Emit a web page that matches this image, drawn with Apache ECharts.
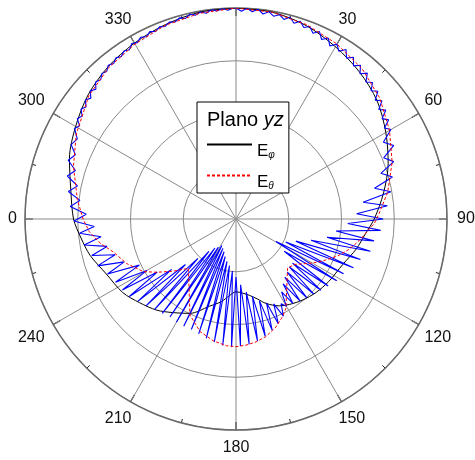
<!DOCTYPE html>
<html>
<head>
<meta charset="utf-8">
<script src="https://cdn.jsdelivr.net/npm/echarts@6/dist/echarts.min.js"></script>
<style>
  html, body { margin: 0; padding: 0; background: #fff; }
  #chart { width: 475px; height: 460px; }
</style>
</head>
<body>
<div id="chart"></div>
<script>
// Radiation pattern in the yz plane, levels in dB (angle in degrees, clockwise from top)

// E_phi component
const blackDeg = [0,10,20,30,40,50,60,70,80,90,97,104,113,124,132.5,140.5,148,153.5,160.4,165,
  170,175,180,185,190,197,206,214,221,229,237,247,256,263,270,280,290,300,310,320,330,340,350,360];
const blackDb = [0,-0.2,-1.0,-2.3,-3.6,-5.1,-7.2,-9.3,-11.6,-13.8,-15.4,-16.5,-18.0,-18.8,-19.4,-20.1,-20.9,-21.6,-23.0,-24.3,
  -25.3,-25.9,-26.2,-25.4,-24.1,-22.7,-20.1,-18.6,-17.1,-15.8,-14.4,-13.3,-11.5,-10.4,-9.2,-8.2,-6.4,-4.9,-3.4,-2.3,-1.5,-0.8,-0.2,0];

// E_theta component
const redDeg = [0,10,20,30,40,50,60,70,80,88,92,96,100,105,110,116,120,124,128,133.6,
  150.8,154.5,159.6,165.7,170.7,175.5,180,184.2,190.5,197.7,205.6,224,230.3,236.1,240.4,247.9,255,260,265,270,
  277,288,298,310,320,330,340,350,360];
const redDb = [0,-0.2,-0.8,-1.7,-2.8,-4.4,-6.4,-8.5,-10.8,-12.9,-13.8,-15.2,-16.3,-17.8,-19.5,-21.8,-23.3,-24.8,-26.0,-26.5,
  -20.6,-19.5,-18.2,-17.0,-16.4,-16.0,-15.8,-15.9,-16.5,-17.6,-19.8,-27.0,-24.5,-21.9,-19.8,-17.6,-15.9,-13.8,-12.1,-11.0,
  -9.7,-7.6,-5.7,-3.6,-2.5,-1.7,-0.9,-0.4,0];

// total field (sampled, strongly oscillating)
const blueDeg = [
  0,1.5,3,4.5,6,7.5,9,10.5,12,13.5,15,16.5,18,19.5,21,22.5,24,25.5,27,28.5,30,
  31.5,33,34.5,36,37.5,39,40.5,42,43.5,45,46.5,48,49.5,51,52.5,54,55.5,57,58.5,60,
  62.5,65,67.5,70,72.5,75,77.5,80,82.5,85,87.5,90,
  92.3,94.5,96.8,99,101.3,103.5,105.8,108,110.3,112.5,114.8,117,119.3,121.5,123.8,
  126,128,130,132,134,136,138,140,142,144,146,148,150,
  152,154,156,158,160,162,164,166,168,170,172,174,176,178,180,
  182,184,186,188,190,192,194,196,198,200,202,204,206,208,210,
  212,214,216,218,220,222,224,226,228,230,232,234,236,238,240,
  242.3,244.5,246.8,249,251.3,253.5,255.8,258,260.3,262.5,264.8,267,269.3,
  271.8,274.3,276.8,279.3,281.8,284.3,286.8,289.3,291.8,294.3,296.8,299.3,
  300.8,302.3,303.8,305.3,306.8,308.3,309.8,311.3,312.8,314.3,315.8,317.3,318.8,320.3,321.8,323.3,324.8,326.3,327.8,329.3,
  330.8,332.3,333.8,335.3,336.8,338.3,339.8,341.3,342.8,344.3,345.8,347.3,348.8,350.3,351.8,353.3,354.8,356.3,357.8,359.3,360];
const blueDb = [
  0,-0.6,0,-0.6,0,-0.8,-0.2,-0.9,-0.4,-1.1,-0.4,-1.3,-0.6,-1.5,-0.9,-1.9,-1.1,-2.3,-1.5,-2.7,-1.7,
  -2.7,-1.7,-3.0,-2.1,-3.4,-2.5,-3.8,-2.8,-4.2,-3.4,-4.7,-3.8,-5.3,-4.4,-5.9,-4.9,-6.4,-5.5,-7.0,-6.1,
  -8.5,-7.0,-9.7,-8.2,-11.2,-9.3,-13.1,-10.2,-15.7,-11.2,-17.1,-12.1,
  -18.8,-12.5,-20.9,-13.5,-22.4,-13.8,-25.2,-15.2,-27.9,-15.9,-29.6,-17.1,-31.3,-17.6,-29.0,
  -18.4,-26.4,-19.0,-26.4,-19.5,-26.0,-19.9,-25.6,-20.3,-24.8,-20.7,-23.7,-20.9,
  -21.8,-19.5,-22.4,-18.6,-23.1,-17.8,-23.9,-17.1,-25.0,-16.5,-26.0,-16.1,-27.5,-15.9,-29.0,
  -15.7,-30.1,-15.9,-31.1,-16.3,-31.8,-16.7,-32.6,-17.1,-33.4,-17.4,-33.9,-17.4,-34.3,-17.4,
  -33.7,-17.6,-33.2,-17.3,-32.0,-16.9,-29.6,-16.3,-27.1,-15.7,-24.5,-15.0,-22.0,-14.6,-20.5,
  -14.2,-19.7,-13.5,-17.3,-12.3,-16.1,-11.8,-15.0,-10.8,-14.2,-10.2,-13.1,-9.3,
  -11.6,-8.5,-10.2,-7.8,-9.3,-7.0,-8.2,-6.3,-7.2,-5.7,-6.3,-4.9,
  -5.5,-4.4,-4.9,-4.0,-4.5,-3.6,-4.2,-3.2,-3.8,-2.8,-3.2,-2.5,-2.8,-2.1,-2.5,-1.9,-2.3,-1.7,-2.1,-1.3,
  -1.7,-1.1,-1.5,-0.9,-1.3,-0.8,-1.1,-0.6,-0.9,-0.4,-0.8,-0.2,-0.6,-0.2,-0.6,0,-0.4,0,-0.4,0,0];

// angular tick labels (the top one is not shown, the left one reads "0")
const angleTicks = [0,30,60,90,120,150,180,210,240,270,300,330,360];
const angleTickText = ['','30','60','90','120','150','180','210','240','0','300','330',''];

const FONT = '"Liberation Sans", Arial, Helvetica, sans-serif';
const toPolar = (deg, db) => deg.map((a, i) => [db[i], a]);

// small horizontal nudges so labels sit centred on their spokes
const labelNudge = { '30': 'l8', '150': 'l8', '60': 'l3', '120': 'l3', '330': 'r6', '210': 'r6', '0': 'r2' };
const tok = (pad) => ({ fontSize: 16, fontFamily: FONT, color: '#111', padding: pad });

const chart = echarts.init(document.getElementById('chart'), null, { renderer: 'canvas' });
chart.setOption({
  animation: false,
  backgroundColor: '#fff',
  polar: { center: [236, 219], radius: 211 },
  angleAxis: {
    type: 'value', min: 0, max: 360, interval: 30,
    startAngle: 90, clockwise: true,
    axisLine: { show: true, lineStyle: { color: '#6a6a6a', width: 1.5 } },
    axisTick: { show: true, inside: true, length: 8, lineStyle: { color: '#111', width: 1.2 } },
    minorTick: { show: true, splitNumber: 2, length: 4, lineStyle: { color: '#222', width: 1 } },
    splitLine: { show: true, lineStyle: { color: '#8a8a8a', width: 1 } },
    axisLabel: {
      margin: 10, color: '#111', fontSize: 16, fontFamily: FONT,
      formatter: function (v) {
        const i = angleTicks.indexOf(Math.round(v));
        const t = i >= 0 ? angleTickText[i] : '';
        if (!t) return '';
        const key = labelNudge[t];
        return key ? '{' + key + '|' + t + '}' : t;
      },
      rich: {
        l8: tok([0, 0, 0, -8]), l3: tok([0, 0, 0, -3]),
        r6: tok([0, -6, 0, 0]), r2: tok([0, -2, 0, 0])
      }
    }
  },
  radiusAxis: {
    type: 'value', min: -40, max: 0, interval: 10,
    axisLine: { show: false }, axisTick: { show: false }, axisLabel: { show: false },
    splitLine: { show: true, lineStyle: { color: '#8a8a8a', width: 1 } }
  },
  title: {
    text: '{n|Plano }{i|yz}', left: 207, top: 110, padding: 0,
    textStyle: {
      fontWeight: 'normal', fontSize: 20, fontFamily: FONT,
      rich: {
        n: { fontSize: 20, fontFamily: FONT, fontWeight: 'normal', color: '#000' },
        i: { fontSize: 20, fontFamily: FONT, fontWeight: 'normal', fontStyle: 'italic', color: '#000' }
      }
    }
  },
  legend: {
    orient: 'vertical', left: 197, top: 102,
    padding: [27, 14, 2, 9],
    itemWidth: 45, itemHeight: 14, itemGap: 0,
    borderColor: '#000', borderWidth: 1, backgroundColor: '#fff',
    selectedMode: false,
    itemStyle: { opacity: 0, borderWidth: 0 },
    data: ['Eφ', 'Eθ'],
    formatter: function (name) { return '{e|E}{s|' + name.slice(1) + '}'; },
    textStyle: {
      fontSize: 17, fontFamily: FONT, color: '#000',
      rich: {
        e: { fontSize: 17, fontFamily: FONT, color: '#000', lineHeight: 31, verticalAlign: 'bottom' },
        s: { fontSize: 10, fontFamily: FONT, fontStyle: 'italic', color: '#000', lineHeight: 10, padding: [21, 0, 0, 0], verticalAlign: 'bottom' }
      }
    }
  },
  series: [
    {
      name: 'Eφ', type: 'line', coordinateSystem: 'polar', data: toPolar(blackDeg, blackDb),
      symbol: 'none', smooth: 0.3, lineStyle: { color: '#000', width: 1 }, itemStyle: { color: '#000' }, z: 2
    },
    {
      name: 'E total', type: 'line', coordinateSystem: 'polar', data: toPolar(blueDeg, blueDb),
      symbol: 'none', lineStyle: { color: '#0000ff', width: 1.1 }, itemStyle: { color: '#0000ff' }, z: 3
    },
    {
      name: 'Eθ', type: 'line', coordinateSystem: 'polar', data: toPolar(redDeg, redDb),
      symbol: 'none', lineStyle: { color: '#ff0000', width: 1, type: [3, 2] }, itemStyle: { color: '#ff0000' }, z: 4
    }
  ]
});
</script>
</body>
</html>
